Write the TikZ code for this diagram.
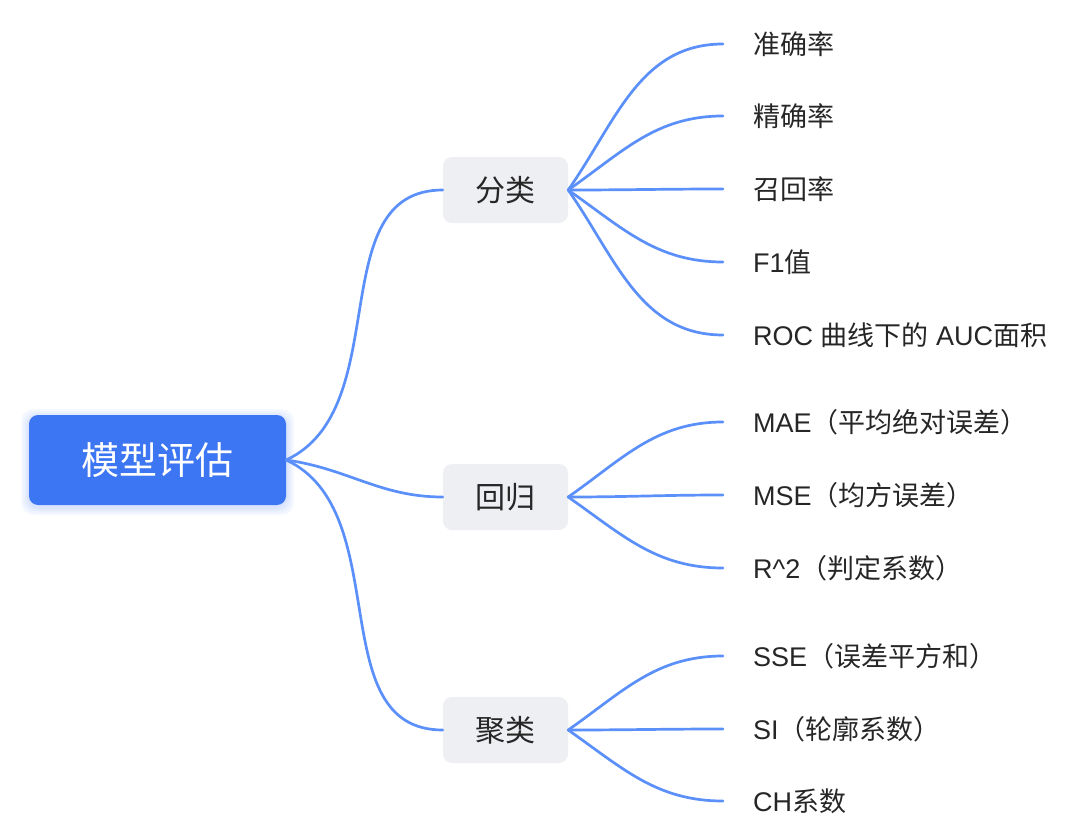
\documentclass[tikz,border=0pt]{standalone}
\usepackage{fontspec}
\setmainfont{Liberation Sans}
\newfontfamily\cjk{Noto Sans CJK SC}
\definecolor{rootc}{RGB}{61,118,243}
\definecolor{branchc}{RGB}{238,239,242}
\definecolor{linec}{RGB}{91,143,249}
\definecolor{txt}{RGB}{38,38,38}
\begin{document}
\begin{tikzpicture}[x=1pt,y=1pt,
 conn/.style={draw=linec, line width=2.7pt, line cap=round},
 rootbox/.style={fill=rootc, rounded corners=9pt, minimum width=257pt, minimum height=90pt, text=white, font=\cjk\fontsize{38}{40}\selectfont, inner sep=0},
 branchbox/.style={fill=branchc, rounded corners=9pt, minimum width=125pt, minimum height=66pt, text=txt, font=\cjk\fontsize{30}{32}\selectfont, inner sep=0},
 leaf/.style={anchor=west, inner sep=0, text=txt, font=\fontsize{27}{30}\selectfont},
 glow/.style={fill=rootc, opacity=0.05, rounded corners=12pt}]
\useasboundingbox (0,0) rectangle (1080,-835);
% glow behind root
\foreach \d in {2,4,6,8}{
  \fill[glow] (29-\d,-415+\d-2) rectangle (286+\d,-505-\d-2);
}
\node[rootbox] (root) at (157.5,-460) {模型评估};
\node[branchbox] (b1) at (505.5,-190) {分类};
\node[branchbox] (b2) at (505.5,-497) {回归};
\node[branchbox] (b3) at (505.5,-730) {聚类};

\node[leaf] (l11) at (753,-44) {\cjk 准确率};
\node[leaf] (l12) at (753,-116) {\cjk 精确率};
\node[leaf] (l13) at (753,-189) {\cjk 召回率};
\node[leaf] (l14) at (753,-262) {F1{\cjk 值}};
\node[leaf] (l15) at (753,-335) {ROC {\cjk 曲线下的} AUC{\cjk 面积}};
\node[leaf] (l21) at (753,-422) {MAE{\cjk （平均绝对误差）}};
\node[leaf] (l22) at (753,-495) {MSE{\cjk （均方误差）}};
\node[leaf] (l23) at (753,-568) {R\^{}2{\cjk （判定系数）}};
\node[leaf] (l31) at (753,-656) {SSE{\cjk （误差平方和）}};
\node[leaf] (l32) at (753,-729) {SI{\cjk （轮廓系数）}};
\node[leaf] (l33) at (753,-801) {CH{\cjk 系数}};

\draw[conn] (root.east) to[out=25,in=180] (b1.west);
\draw[conn] (root.east) to[out=-8,in=180] (b2.west);
\draw[conn] (root.east) to[out=-25,in=180] (b3.west);

\draw[conn] (b1.east) to[out=55,in=180] ([xshift=-30pt]l11.west);
\draw[conn] (b1.east) to[out=35,in=180] ([xshift=-30pt]l12.west);
\draw[conn] (b1.east) to[out=0,in=180] ([xshift=-30pt]l13.west);
\draw[conn] (b1.east) to[out=-35,in=180] ([xshift=-30pt]l14.west);
\draw[conn] (b1.east) to[out=-55,in=180] ([xshift=-30pt]l15.west);

\draw[conn] (b2.east) to[out=35,in=180] ([xshift=-30pt]l21.west);
\draw[conn] (b2.east) to[out=0,in=180] ([xshift=-30pt]l22.west);
\draw[conn] (b2.east) to[out=-35,in=180] ([xshift=-30pt]l23.west);

\draw[conn] (b3.east) to[out=35,in=180] ([xshift=-30pt]l31.west);
\draw[conn] (b3.east) to[out=0,in=180] ([xshift=-30pt]l32.west);
\draw[conn] (b3.east) to[out=-35,in=180] ([xshift=-30pt]l33.west);
\end{tikzpicture}
\end{document}
